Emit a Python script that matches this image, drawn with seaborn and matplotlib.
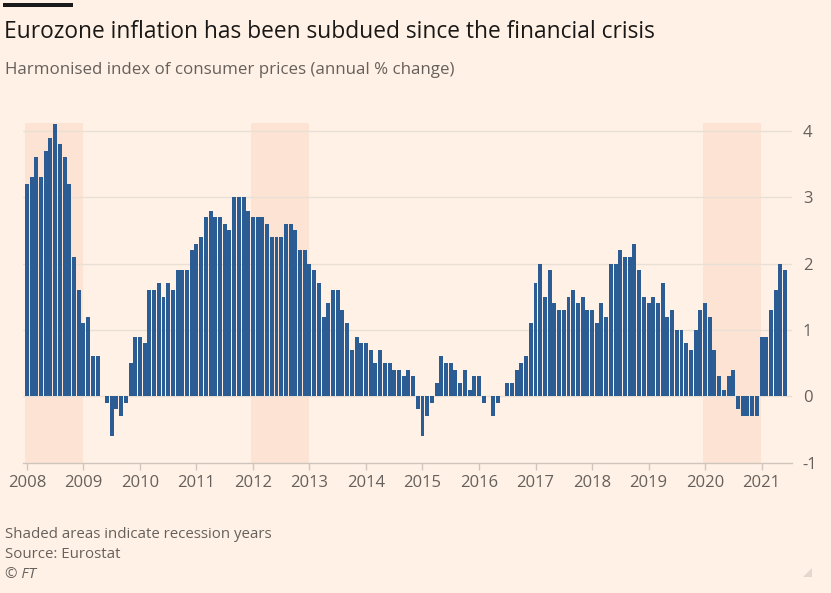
import matplotlib
matplotlib.use("Agg")
import matplotlib.pyplot as plt
import seaborn as sns
import pandas as pd
from matplotlib.patches import Rectangle, Polygon

# ---- data (annual % change, monthly) ----
y2008 = [3.2, 3.3, 3.6, 3.3, 3.7, 3.9, 4.1, 3.8, 3.6, 3.2, 2.1, 1.6]
y2009 = [1.1, 1.2, 0.6, 0.6, 0.0, -0.1, -0.6, -0.2, -0.3, -0.1, 0.5, 0.9]
y2010 = [0.9, 0.8, 1.6, 1.6, 1.7, 1.5, 1.7, 1.6, 1.9, 1.9, 1.9, 2.2]
y2011 = [2.3, 2.4, 2.7, 2.8, 2.7, 2.7, 2.6, 2.5, 3.0, 3.0, 3.0, 2.8]
y2012 = [2.7, 2.7, 2.7, 2.6, 2.4, 2.4, 2.4, 2.6, 2.6, 2.5, 2.2, 2.2]
y2013 = [2.0, 1.9, 1.7, 1.2, 1.4, 1.6, 1.6, 1.3, 1.1, 0.7, 0.9, 0.8]
y2014 = [0.8, 0.7, 0.5, 0.7, 0.5, 0.5, 0.4, 0.4, 0.3, 0.4, 0.3, -0.2]
y2015 = [-0.6, -0.3, -0.1, 0.2, 0.6, 0.5, 0.5, 0.4, 0.2, 0.4, 0.1, 0.3]
y2016 = [0.3, -0.1, 0.0, -0.3, -0.1, 0.0, 0.2, 0.2, 0.4, 0.5, 0.6, 1.1]
y2017 = [1.7, 2.0, 1.5, 1.9, 1.4, 1.3, 1.3, 1.5, 1.6, 1.4, 1.5, 1.3]
y2018 = [1.3, 1.1, 1.4, 1.2, 2.0, 2.0, 2.2, 2.1, 2.1, 2.3, 1.9, 1.5]
y2019 = [1.4, 1.5, 1.4, 1.7, 1.2, 1.3, 1.0, 1.0, 0.8, 0.7, 1.0, 1.3]
y2020 = [1.4, 1.2, 0.7, 0.3, 0.1, 0.3, 0.4, -0.2, -0.3, -0.3, -0.3, -0.3]
y2021 = [0.9, 0.9, 1.3, 1.6, 2.0, 1.9]

years = list(range(2008, 2022))
recession_years = [2008, 2012, 2020]
y_ticks = [-1, 0, 1, 2, 3, 4]

values = (y2008 + y2009 + y2010 + y2011 + y2012 + y2013 + y2014 + y2015
          + y2016 + y2017 + y2018 + y2019 + y2020 + y2021)
df = pd.DataFrame({"month": list(range(len(values))), "hicp": values})

# ---- style ----
BG = "#FFF1E5"
BAR = "#2B5C94"
SHADE = "#FCE3D4"
GRID = "#EADFD5"
TXT = "#66605C"

sns.set_theme(style="white")
plt.rcParams["font.family"] = ["Open Sans", "DejaVu Sans"]
plt.rcParams["axes.unicode_minus"] = False

fig = plt.figure(figsize=(8.31, 5.93), dpi=100, facecolor=BG)
ax = fig.add_axes([0.0273, 0.220, 0.9254, 0.5726])
ax.set_facecolor(BG)

for yr in recession_years:
    s = (yr - 2008) * 12 - 0.5
    ax.axvspan(s, s + 12.4, color=SHADE, zorder=0, lw=0)

for t in y_ticks[1:]:
    ax.axhline(t, color=GRID, lw=1.0, zorder=0.5)

sns.barplot(data=df, x="month", y="hicp", color=BAR, saturation=1,
            width=0.84, ax=ax, zorder=2, linewidth=0)

ax.set_xlim(-0.9, 162.4)
ax.set_ylim(-1, 4.12)
ax.set_xlabel("")
ax.set_ylabel("")

ax.set_xticks([(y - 2008) * 12 for y in years])
ax.set_xticklabels([str(y) for y in years], fontsize=12, color=TXT)
ax.tick_params(axis="x", length=5, width=1, color="#CFC5BC", pad=4,
               bottom=True)

ax.yaxis.tick_right()
ax.set_yticks(y_ticks)
ax.set_yticklabels([str(v) for v in y_ticks], fontsize=12, color=TXT)
ax.tick_params(axis="y", length=0, pad=8)

for sp in ["top", "left", "right"]:
    ax.spines[sp].set_visible(False)
ax.spines["bottom"].set_color("#CFC5BC")
ax.spines["bottom"].set_linewidth(1.0)

# ---- texts ----
fig.add_artist(Rectangle((3 / 831, 1 - 7 / 593), 70 / 831, 4 / 593,
                         transform=fig.transFigure, color="#1A1A1A", lw=0))
fig.text(4 / 831, 1 - 32 / 593, "Eurozone inflation has been subdued since the financial crisis",
         fontsize=16.4, color="#1A1817", va="center", ha="left")
fig.text(5 / 831, 1 - 70 / 593, "Harmonised index of consumer prices (annual % change)",
         fontsize=12.2, color=TXT, va="center", ha="left")

fig.text(5 / 831, 1 - 534 / 593, "Shaded areas indicate recession years",
         fontsize=10.8, color=TXT, va="center", ha="left")
fig.text(5 / 831, 1 - 554 / 593, "Source: Eurostat",
         fontsize=10.8, color=TXT, va="center", ha="left")
fig.text(5 / 831, 1 - 575 / 593, "© FT",
         fontsize=10.8, color=TXT, va="center", ha="left", style="italic")

fig.add_artist(Polygon([(812 / 831, 1 - 568 / 593), (812 / 831, 1 - 577 / 593),
                        (803 / 831, 1 - 577 / 593)], closed=True,
                       transform=fig.transFigure, color="#E2D8D0", lw=0))

fig.savefig("out.png", dpi=100, facecolor=BG)
